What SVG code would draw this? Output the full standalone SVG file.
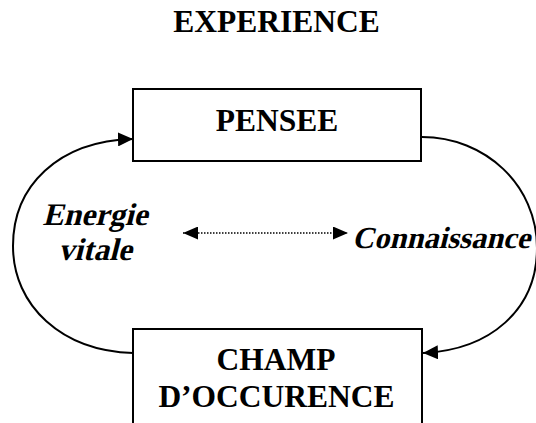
<svg xmlns="http://www.w3.org/2000/svg" width="536" height="423" viewBox="0 0 536 423">
<defs>
<style>
.box{fill:#fff;stroke:#000;stroke-width:2}
.t{font-family:"Liberation Serif",serif;font-weight:bold;font-size:31.5px;fill:#000;text-anchor:middle}
.arc{fill:none;stroke:#000;stroke-width:2}
.dot{fill:none;stroke:#000;stroke-width:1.5;stroke-dasharray:1.5 1.5}
</style>
<marker id="ah" markerUnits="userSpaceOnUse" markerWidth="15" markerHeight="14" refX="15" refY="7" orient="auto">
<path d="M0,0 L15,7 L0,14 z" fill="#000"/>
</marker>
<marker id="sh" markerUnits="userSpaceOnUse" markerWidth="15" markerHeight="13" refX="15" refY="6.5" orient="auto-start-reverse">
<path d="M0,0 L15,6.5 L0,13 z" fill="#000"/>
</marker>
</defs>
<rect width="536" height="423" fill="#fff"/>
<g id="title"><text class="t" x="276.5" y="32">EXPERIENCE</text></g>
<g id="connectors">
<path class="arc" d="M133,353 C62,351 13,306 13,246 C13,186 58,141 133,139" marker-end="url(#ah)"/>
<path class="arc" d="M422,137 C485,137 537,185 537,248 C537,310 490,350 423,353" marker-end="url(#ah)"/>
<path class="dot" d="M183,233 L348,233" marker-start="url(#sh)" marker-end="url(#sh)"/>
</g>
<g id="pensee">
<rect class="box" x="133" y="89" width="288" height="72"/>
<text class="t" x="277" y="131">PENSEE</text>
</g>
<g id="champ">
<rect class="box" x="133" y="329" width="289" height="110"/>
<text class="t" x="276" y="370">CHAMP</text>
<text class="t" x="276.5" y="407">D’OCCURENCE</text>
</g>
<g id="energie">
<text class="t" transform="translate(95,225) skewX(-14)" x="0" y="0">Energie</text>
<text class="t" transform="translate(95,260) skewX(-14)" x="0" y="0">vitale</text>
</g>
<g id="connaissance">
<text class="t" transform="translate(352,248) skewX(-14)" x="0" y="0" style="text-anchor:start;font-size:30.5px">Connaissance</text>
</g>
</svg>
